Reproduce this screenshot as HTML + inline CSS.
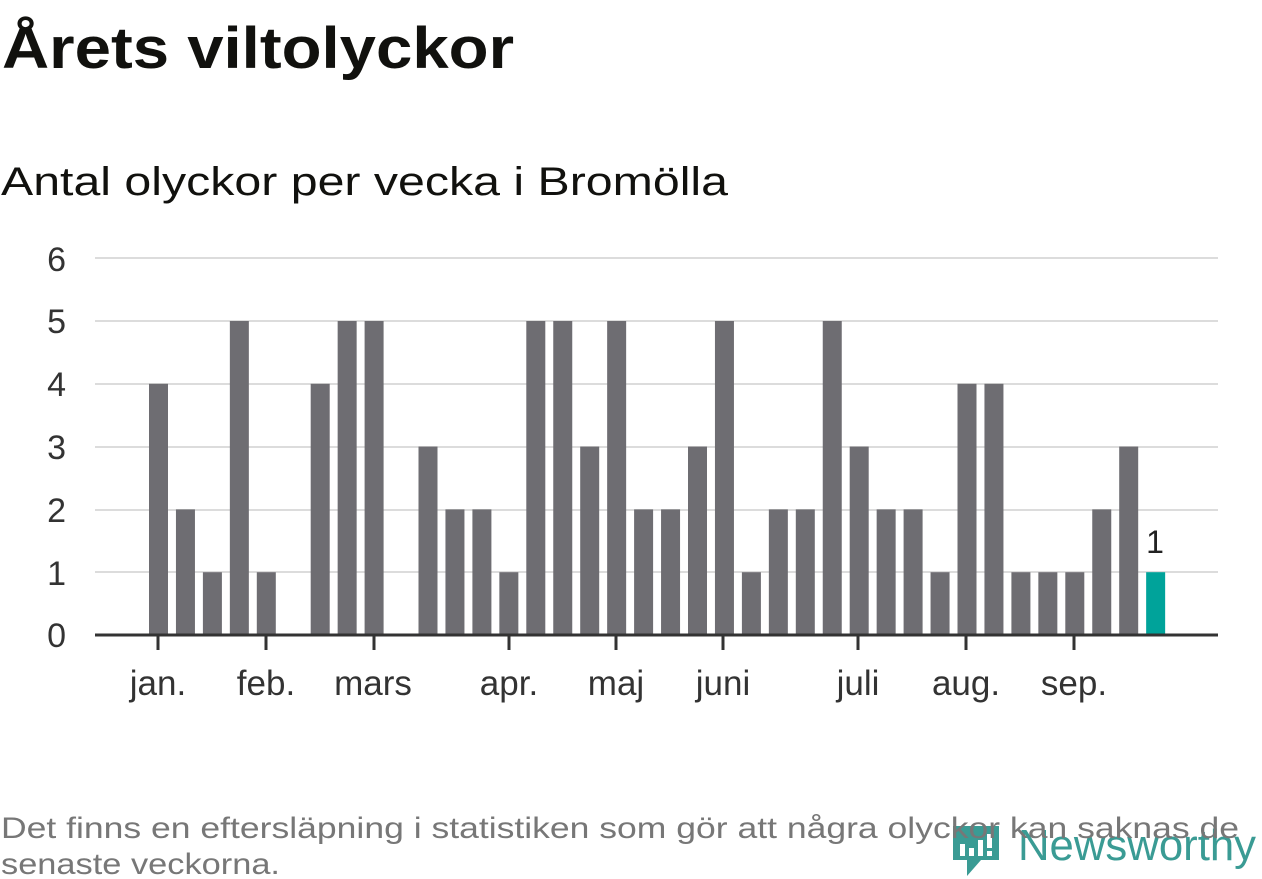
<!DOCTYPE html>
<html><head><meta charset="utf-8"><style>
body{margin:0;background:#fff;}
svg{display:block;font-family:"Liberation Sans",sans-serif;}
</style></head><body>
<svg width="1262" height="879" viewBox="0 0 1262 879" xmlns="http://www.w3.org/2000/svg">
<text x="2" y="68" font-size="58" font-weight="bold" fill="#11110e" textLength="512" lengthAdjust="spacingAndGlyphs">Årets viltolyckor</text>
<text x="1" y="195" font-size="40" fill="#11110e" textLength="727" lengthAdjust="spacingAndGlyphs">Antal olyckor per vecka i Bromölla</text>
<g stroke="#dcdcdc" stroke-width="2">
<line x1="95" x2="1218" y1="258" y2="258"/><line x1="95" x2="1218" y1="321" y2="321"/>
<line x1="95" x2="1218" y1="384" y2="384"/><line x1="95" x2="1218" y1="447" y2="447"/>
<line x1="95" x2="1218" y1="510" y2="510"/><line x1="95" x2="1218" y1="572" y2="572"/>
</g>
<g font-size="34" fill="#333" text-anchor="end">
<text x="66" y="647">0</text><text x="66" y="585">1</text><text x="66" y="522">2</text>
<text x="66" y="459">3</text><text x="66" y="396">4</text><text x="66" y="333">5</text><text x="66" y="271">6</text>
</g>
<g fill="#6e6d72">
<rect x="149" y="383.8" width="19" height="251.2"/>
<rect x="175.95" y="509.4" width="19" height="125.6"/>
<rect x="202.9" y="572.2" width="19" height="62.8"/>
<rect x="229.85" y="321" width="19" height="314"/>
<rect x="256.8" y="572.2" width="19" height="62.8"/>
<rect x="310.7" y="383.8" width="19" height="251.2"/>
<rect x="337.65" y="321" width="19" height="314"/>
<rect x="364.6" y="321" width="19" height="314"/>
<rect x="418.5" y="446.6" width="19" height="188.4"/>
<rect x="445.45" y="509.4" width="19" height="125.6"/>
<rect x="472.4" y="509.4" width="19" height="125.6"/>
<rect x="499.35" y="572.2" width="19" height="62.8"/>
<rect x="526.3" y="321" width="19" height="314"/>
<rect x="553.25" y="321" width="19" height="314"/>
<rect x="580.2" y="446.6" width="19" height="188.4"/>
<rect x="607.15" y="321" width="19" height="314"/>
<rect x="634.1" y="509.4" width="19" height="125.6"/>
<rect x="661.05" y="509.4" width="19" height="125.6"/>
<rect x="688" y="446.6" width="19" height="188.4"/>
<rect x="714.95" y="321" width="19" height="314"/>
<rect x="741.9" y="572.2" width="19" height="62.8"/>
<rect x="768.85" y="509.4" width="19" height="125.6"/>
<rect x="795.8" y="509.4" width="19" height="125.6"/>
<rect x="822.75" y="321" width="19" height="314"/>
<rect x="849.7" y="446.6" width="19" height="188.4"/>
<rect x="876.65" y="509.4" width="19" height="125.6"/>
<rect x="903.6" y="509.4" width="19" height="125.6"/>
<rect x="930.55" y="572.2" width="19" height="62.8"/>
<rect x="957.5" y="383.8" width="19" height="251.2"/>
<rect x="984.45" y="383.8" width="19" height="251.2"/>
<rect x="1011.4" y="572.2" width="19" height="62.8"/>
<rect x="1038.35" y="572.2" width="19" height="62.8"/>
<rect x="1065.3" y="572.2" width="19" height="62.8"/>
<rect x="1092.25" y="509.4" width="19" height="125.6"/>
<rect x="1119.2" y="446.6" width="19" height="188.4"/>
<rect x="1146.15" y="572.2" width="19" height="62.8" fill="#00a39a"/>
</g>
<line x1="95" x2="1218" y1="635" y2="635" stroke="#333" stroke-width="3"/>
<g stroke="#333" stroke-width="3">
<line x1="158" x2="158" y1="635" y2="650"/><line x1="266" x2="266" y1="635" y2="650"/>
<line x1="374" x2="374" y1="635" y2="650"/><line x1="509" x2="509" y1="635" y2="650"/>
<line x1="616" x2="616" y1="635" y2="650"/><line x1="723" x2="723" y1="635" y2="650"/>
<line x1="858" x2="858" y1="635" y2="650"/><line x1="966" x2="966" y1="635" y2="650"/>
<line x1="1074" x2="1074" y1="635" y2="650"/>
</g>
<g font-size="35" fill="#333" text-anchor="middle">
<text x="158" y="695">jan.</text><text x="266" y="695">feb.</text><text x="373" y="695">mars</text>
<text x="509" y="695">apr.</text><text x="616" y="695">maj</text><text x="723" y="695">juni</text>
<text x="858" y="695">juli</text><text x="966" y="695">aug.</text><text x="1074" y="695">sep.</text>
</g>
<text x="1155" y="553" font-size="32" fill="#222" text-anchor="middle">1</text>
<g transform="translate(953,826)">
<path d="M0 0 H46 V34 L28 34 L14 50 L14 34 H0 Z" fill="#3a9b94"/>
<rect x="7" y="18" width="5" height="12" fill="#fff"/><rect x="16" y="22" width="5" height="8" fill="#fff"/>
<rect x="25" y="14" width="5" height="16" fill="#fff"/><rect x="34" y="8" width="5" height="14" fill="#fff"/><rect x="34" y="25" width="5" height="5" fill="#fff"/>
</g>
<text x="1018" y="860" font-size="44" fill="#3a9b94" textLength="238" lengthAdjust="spacingAndGlyphs">Newsworthy</text>
<text x="1" y="838" font-size="30" fill="#777" textLength="1238" lengthAdjust="spacingAndGlyphs">Det finns en eftersläpning i statistiken som gör att några olyckor kan saknas de</text>
<text x="1" y="874" font-size="30" fill="#777" textLength="279" lengthAdjust="spacingAndGlyphs">senaste veckorna.</text>
</svg>
</body></html>
